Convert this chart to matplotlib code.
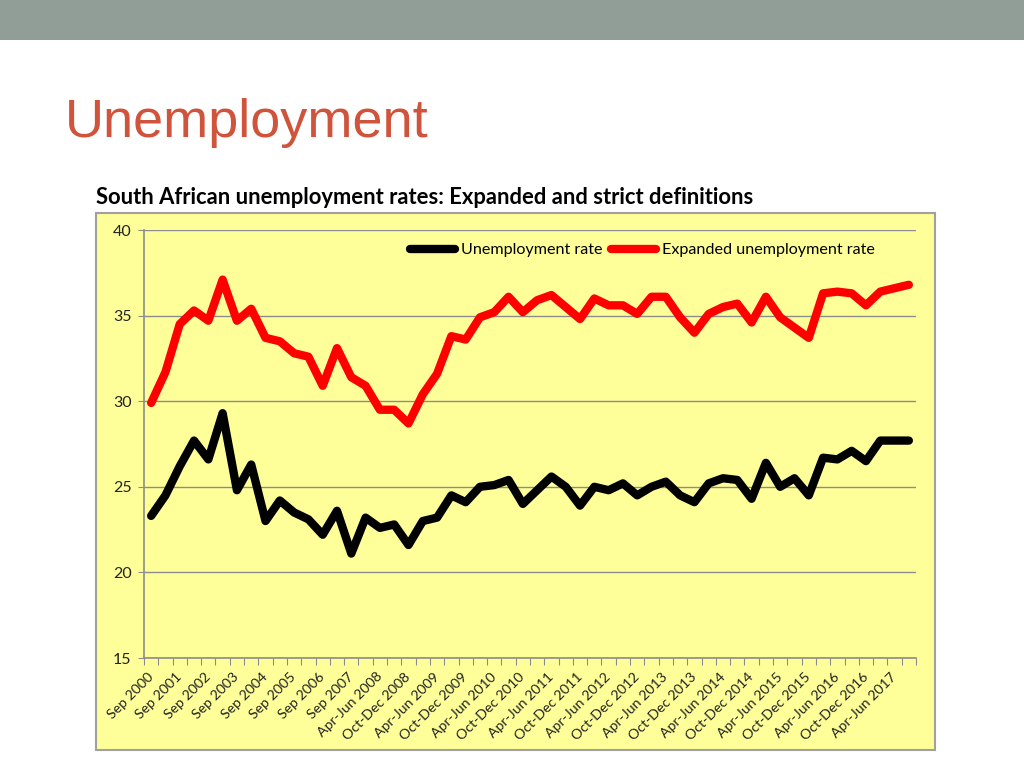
import numpy as np
import matplotlib
matplotlib.use("Agg")
import matplotlib.pyplot as plt
from matplotlib.patches import Rectangle

# Category labels shown on the axis (every second period)
tick_labels = [
    "Sep 2000", "Sep 2001", "Sep 2002", "Sep 2003", "Sep 2004", "Sep 2005",
    "Sep 2006", "Sep 2007", "Apr-Jun 2008", "Oct-Dec 2008", "Apr-Jun 2009",
    "Oct-Dec 2009", "Apr-Jun 2010", "Oct-Dec 2010", "Apr-Jun 2011",
    "Oct-Dec 2011", "Apr-Jun 2012", "Oct-Dec 2012", "Apr-Jun 2013",
    "Oct-Dec 2013", "Apr-Jun 2014", "Oct-Dec 2014", "Apr-Jun 2015",
    "Oct-Dec 2015", "Apr-Jun 2016", "Oct-Dec 2016", "Apr-Jun 2017",
]

# Strict (official) unemployment rate, %
strict_rate = [
    23.3, 24.5, 26.2, 27.7, 26.6, 29.3, 24.8, 26.3, 23.0, 24.2,
    23.5, 23.1, 22.2, 23.6, 21.1, 23.2, 22.6, 22.8, 21.6, 23.0,
    23.2, 24.5, 24.1, 25.0, 25.1, 25.4, 24.0, 24.8, 25.6, 25.0,
    23.9, 25.0, 24.8, 25.2, 24.5, 25.0, 25.3, 24.5, 24.1, 25.2,
    25.5, 25.4, 24.3, 26.4, 25.0, 25.5, 24.5, 26.7, 26.6, 27.1,
    26.5, 27.7, 27.7, 27.7,
]

# Expanded unemployment rate, %
expanded_rate = [
    29.9, 31.7, 34.5, 35.3, 34.7, 37.1, 34.7, 35.4, 33.7, 33.5,
    32.8, 32.6, 30.9, 33.1, 31.4, 30.9, 29.5, 29.5, 28.7, 30.4,
    31.6, 33.8, 33.6, 34.9, 35.2, 36.1, 35.2, 35.9, 36.2, 35.5,
    34.8, 36.0, 35.6, 35.6, 35.1, 36.1, 36.1, 34.9, 34.0, 35.1,
    35.5, 35.7, 34.6, 36.1, 34.9, 34.3, 33.7, 36.3, 36.4, 36.3,
    35.6, 36.4, 36.6, 36.8,
]

y_ticks = [15, 20, 25, 30, 35, 40]

W, H = 1024, 768
YELLOW = "#ffff99"
GRID = "#8c8c8c"

fig = plt.figure(figsize=(W / 100, H / 100), dpi=100)
fig.patch.set_facecolor("white")

# slide header bar
fig.patches.append(Rectangle((0, 1 - 40 / H), 1, 40 / H, transform=fig.transFigure,
                             facecolor="#919e98", edgecolor="none", zorder=-2))
fig.text(65 / W, 1 - 137 / H, "Unemployment", fontsize=39, color="#d0533b",
         family="Liberation Sans", ha="left", va="baseline")

# chart title and yellow chart box
fig.text(96 / W, 1 - 197 / H,
         "South African unemployment rates: Expanded and strict definitions",
         fontsize=15.8, fontweight="bold", family="Lato", ha="left", va="center")
fig.patches.append(Rectangle((96 / W, 1 - 750 / H), (935 - 96) / W, (750 - 213) / H,
                             transform=fig.transFigure, facecolor=YELLOW,
                             edgecolor="#a0a0a0", linewidth=1.5, zorder=-2))

ax = fig.add_axes([144 / W, 1 - 658 / H, (916 - 144) / W, (658 - 230) / H])
ax.set_facecolor(YELLOW)

x = np.arange(len(strict_rate))
ax.plot(x, strict_rate, color="black", lw=6, solid_joinstyle="round",
        solid_capstyle="round", label="Unemployment rate", zorder=3)
ax.plot(x, expanded_rate, color="#ff0000", lw=6, solid_joinstyle="round",
        solid_capstyle="round", label="Expanded unemployment rate", zorder=3)

ax.set_xlim(-0.5, len(x) - 0.5)
ax.set_ylim(15, 40)
ax.set_yticks(y_ticks)
ax.yaxis.grid(True, color=GRID, lw=1)
ax.set_axisbelow(True)
ax.tick_params(axis="y", length=4, color=GRID, labelsize=11.5, labelcolor="#222222",
               pad=5)
for lab in ax.get_yticklabels():
    lab.set_family("Lato")

# boundary ticks (major) and label positions (minor)
ax.set_xticks(np.arange(-0.5, len(x), 1))
ax.set_xticklabels([])
ax.tick_params(axis="x", which="major", length=5, color=GRID, direction="out")
ax.set_xticks(np.arange(0, len(x), 2), minor=True)
ax.set_xticklabels(tick_labels, minor=True, rotation=45, ha="right", va="center",
                   rotation_mode="anchor", fontsize=10.2, family="Lato", color="#222222")
ax.tick_params(axis="x", which="minor", length=0, pad=12)

for s in ["top", "right"]:
    ax.spines[s].set_visible(False)
for s in ["left", "bottom"]:
    ax.spines[s].set_color(GRID)
    ax.spines[s].set_linewidth(1.2)

ax.legend(loc="center left", bbox_to_anchor=(410 / W, 1 - 250 / H),
          bbox_transform=fig.transFigure, ncol=2, frameon=False,
          prop={"family": "Lato", "size": 11.6}, handlelength=2.8,
          handletextpad=0.35, columnspacing=0.55, borderpad=0, borderaxespad=0)

fig.savefig("out.png", dpi=100)
